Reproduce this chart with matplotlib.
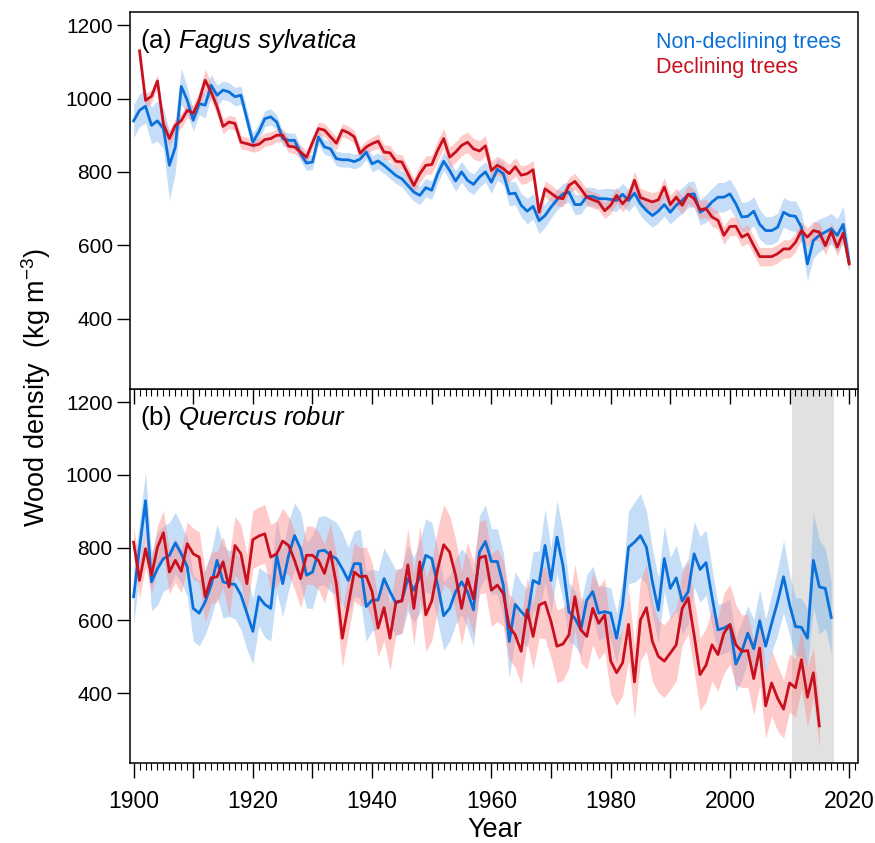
import numpy as np
import matplotlib
matplotlib.use("Agg")
import matplotlib.pyplot as plt
from matplotlib.ticker import MultipleLocator

plt.rcParams["font.family"] = ["Liberation Sans", "DejaVu Sans"]
plt.rcParams["mathtext.fontset"] = "custom"
plt.rcParams["mathtext.rm"] = "Liberation Sans"
plt.rcParams["mathtext.it"] = "Liberation Sans:italic"

# ---- data ----
fagus_nd_start = 1900
fagus_nd = [
    939, 968, 979, 927, 939, 918, 818, 868, 1033, 995,
    941, 986, 982, 1036, 1009, 1023, 1018, 1005, 1009, 945,
    881, 909, 945, 950, 936, 891, 886, 886, 850, 824,
    827, 895, 868, 863, 836, 833, 833, 828, 835, 854,
    822, 830, 818, 804, 790, 781, 763, 745, 736, 757,
    750, 795, 829, 804, 775, 800, 777, 766, 786, 800,
    772, 807, 795, 740, 742, 709, 693, 706, 667, 681,
    704, 724, 740, 745, 711, 711, 733, 733, 727, 727,
    725, 722, 739, 722, 742, 713, 695, 681, 693, 711,
    690, 709, 722, 738, 740, 690, 700, 718, 731, 731,
    740, 713, 677, 679, 693, 657, 640, 640, 649, 690,
    681, 679, 649, 549, 613, 627, 636, 645, 627, 657, 554,
]
fagus_nd_hw = [
    45, 45, 45, 50, 55, 55, 95, 70, 50, 35,
    30, 30, 35, 30, 28, 25, 25, 25, 25, 25,
    25, 22, 22, 22, 20, 20, 20, 20, 20, 20,
    20, 20, 20, 20, 20, 20, 20, 20, 20, 20,
    22, 22, 22, 22, 22, 22, 25, 25, 25, 25,
    25, 25, 25, 28, 28, 28, 28, 28, 28, 28,
    30, 30, 30, 32, 32, 32, 35, 35, 35, 32,
    30, 28, 28, 28, 28, 25, 25, 25, 25, 28,
    30, 30, 30, 30, 32, 32, 32, 32, 32, 32,
    32, 35, 35, 35, 35, 35, 38, 38, 40, 40,
    40, 40, 40, 40, 40, 40, 38, 38, 38, 40,
    40, 42, 42, 45, 48, 45, 42, 42, 45, 50, 30,
]
fagus_d_start = 1901
fagus_d = [
    1130, 995, 1006, 1048, 930, 891, 927, 940, 968, 960,
    995, 1050, 1018, 977, 924, 936, 932, 881, 877, 872,
    875, 888, 891, 900, 900, 870, 868, 854, 840, 880,
    918, 914, 896, 878, 914, 907, 896, 851, 868, 877,
    884, 854, 852, 829, 827, 795, 763, 795, 818, 820,
    859, 891, 840, 854, 872, 881, 863, 857, 871, 804,
    818, 809, 795, 814, 791, 795, 806, 690, 754, 742,
    730, 727, 763, 774, 754, 731, 724, 718, 694, 709,
    736, 713, 731, 777, 730, 724, 718, 724, 759, 711,
    731, 709, 739, 727, 697, 700, 677, 668, 627, 651,
    652, 622, 631, 599, 569, 569, 569, 577, 590, 590,
    608, 640, 622, 640, 636, 599, 638, 595, 633, 549,
]
fagus_d_hw = [
    18, 18, 18, 18, 20, 20, 20, 20, 20, 22,
    25, 30, 25, 22, 20, 18, 18, 18, 18, 18,
    18, 18, 18, 18, 18, 18, 18, 18, 18, 18,
    18, 18, 18, 18, 18, 18, 18, 18, 18, 18,
    20, 20, 20, 20, 20, 20, 20, 25, 25, 25,
    28, 28, 28, 28, 28, 28, 28, 28, 28, 25,
    25, 25, 25, 25, 25, 25, 25, 22, 22, 22,
    22, 22, 22, 22, 22, 22, 22, 22, 22, 22,
    22, 22, 22, 25, 25, 25, 25, 25, 25, 25,
    25, 25, 25, 25, 25, 25, 25, 25, 25, 25,
    25, 25, 25, 25, 25, 25, 25, 25, 25, 25,
    25, 25, 25, 25, 25, 25, 25, 25, 25, 15,
]

quercus_nd_start = 1900
quercus_nd = [
    665, 801, 929, 706, 742, 770, 779, 813, 783, 747,
    633, 620, 651, 697, 765, 706, 701, 699, 670, 620,
    570, 665, 644, 633, 779, 701, 779, 833, 797, 724,
    733, 790, 793, 779, 770, 742, 710, 756, 756, 638,
    656, 656, 715, 679, 647, 656, 715, 683, 720, 779,
    770, 697, 613, 633, 679, 706, 679, 629, 788, 817,
    762, 762, 697, 542, 644, 624, 606, 710, 701, 806,
    710, 829, 751, 624, 606, 574, 656, 679, 620, 624,
    620, 551, 642, 801, 815, 833, 801, 706, 628, 770,
    688, 717, 653, 679, 783, 740, 759, 665, 574, 579,
    588, 480, 515, 565, 522, 599, 529, 592, 651, 720,
    644, 583, 581, 551, 765, 692, 688, 608,
]
quercus_nd_hw = [
    80, 70, 80, 80, 100, 90, 90, 85, 80, 80,
    90, 90, 90, 90, 100, 100, 90, 95, 95, 100,
    90, 80, 90, 90, 100, 90, 95, 90, 100, 90,
    100, 95, 95, 100, 100, 100, 90, 90, 95, 95,
    85, 80, 85, 90, 90, 90, 90, 90, 100, 100,
    100, 100, 95, 90, 90, 90, 100, 100, 100, 100,
    90, 90, 90, 100, 90, 80, 80, 80, 90, 100,
    90, 100, 95, 80, 75, 70, 70, 70, 75, 70,
    70, 70, 70, 100, 110, 115, 100, 90, 90, 90,
    85, 90, 90, 90, 90, 90, 90, 80, 70, 70,
    70, 75, 80, 75, 80, 85, 75, 80, 90, 100,
    85, 80, 80, 80, 130, 130, 110, 100,
]
quercus_d_start = 1900
quercus_d = [
    815, 710, 797, 724, 801, 841, 733, 765, 735, 811,
    783, 774, 665, 717, 720, 761, 692, 806, 783, 701,
    822, 832, 838, 774, 783, 818, 806, 765, 715, 779,
    779, 765, 729, 788, 700, 551, 642, 733, 720, 722,
    679, 579, 635, 551, 651, 653, 753, 633, 761, 615,
    653, 742, 808, 788, 724, 633, 715, 659, 772, 777,
    683, 697, 674, 583, 560, 515, 629, 556, 642, 650,
    597, 529, 535, 560, 665, 574, 556, 633, 592, 615,
    489, 456, 483, 589, 431, 601, 635, 542, 501, 488,
    510, 533, 633, 662, 560, 451, 477, 533, 506, 565,
    589, 533, 515, 517, 440, 524, 365, 428, 386, 356,
    428, 415, 492, 389, 456, 310,
]
quercus_d_hw = [
    40, 50, 50, 50, 60, 60, 60, 60, 60, 60,
    70, 70, 70, 70, 70, 70, 80, 80, 80, 80,
    80, 80, 80, 90, 90, 90, 80, 80, 80, 80,
    80, 80, 80, 80, 80, 80, 80, 80, 80, 80,
    80, 80, 90, 90, 90, 90, 100, 100, 100, 100,
    110, 110, 110, 100, 100, 100, 100, 100, 100, 100,
    100, 100, 90, 90, 90, 90, 90, 90, 90, 100,
    100, 100, 100, 90, 90, 90, 90, 100, 100, 100,
    90, 90, 90, 100, 100, 110, 120, 110, 100, 100,
    100, 100, 100, 100, 100, 100, 100, 100, 100, 110,
    110, 110, 100, 100, 100, 100, 90, 90, 90, 80,
    80, 80, 80, 80, 70, 60,
]
shade_period = (2010.4, 2017.5)
year_labels = [1900, 1920, 1940, 1960, 1980, 2000, 2020]

BLUE = "#0a70da"
RED = "#c8101e"
BLUE_FILL = "#7fb5ee"
RED_FILL = "#ff8a8a"


def draw_band(ax, start, vals, hw, fill_c):
    vals = np.asarray(vals, dtype=float)
    hw = np.asarray(hw, dtype=float)
    yrs = np.arange(start, start + len(vals))
    ax.fill_between(yrs, vals - hw, vals + hw, color=fill_c, alpha=0.45, lw=0)
    return yrs, vals


fig = plt.figure(figsize=(8.75, 8.43), dpi=100)
left, right = 0.1486, 0.98
ax1 = fig.add_axes([left, 0.5385, right - left, 0.9858 - 0.5385], zorder=3)
ax2 = fig.add_axes([left, 0.0949, right - left, 0.5385 - 0.0949], zorder=1)

panels = [
    (ax1, (fagus_nd_start, fagus_nd, fagus_nd_hw), (fagus_d_start, fagus_d, fagus_d_hw),
     r"(a) $\mathit{Fagus\ sylvatica}$"),
    (ax2, (quercus_nd_start, quercus_nd, quercus_nd_hw), (quercus_d_start, quercus_d, quercus_d_hw),
     r"(b) $\mathit{Quercus\ robur}$"),
]

ax2.axvspan(*shade_period, color="#e1e1e1", lw=0, zorder=0)

for ax, nd, d, label in panels:
    xb, yb = draw_band(ax, *nd, BLUE_FILL)
    xr, yr = draw_band(ax, *d, RED_FILL)
    ax.plot(xb, yb, color=BLUE, lw=2.0)
    ax.plot(xr, yr, color=RED, lw=2.0)
    ax.set_xlim(1899.4, 2021.4)
    ax.set_ylim(208, 1236)
    ax.set_yticks([400, 600, 800, 1000, 1200])
    ax.tick_params(axis="y", direction="out", length=9.5, width=1.0,
                   labelsize=15, pad=3)
    ax.xaxis.set_major_locator(MultipleLocator(10))
    ax.xaxis.set_minor_locator(MultipleLocator(1))
    ax.tick_params(axis="x", which="major", direction="out", length=10.5, width=1.0)
    ax.tick_params(axis="x", which="minor", direction="out", length=5, width=0.8)
    ax.set_xticklabels([])
    for s in ax.spines.values():
        s.set_linewidth(1.1)
    ax.text(0.014, 0.905, label, transform=ax.transAxes, fontsize=18.5,
            ha="left", va="baseline")

# year labels under the lower panel only
for yl in year_labels:
    ax2.text(yl, -0.072, str(yl), transform=ax2.get_xaxis_transform(),
             ha="center", va="top", fontsize=16.5)
fig.text(0.565, 0.016, "Year", ha="center", va="center", fontsize=19.5)

ax1.text(0.723, 0.905, "Non-declining trees", color=BLUE, fontsize=15.5,
         transform=ax1.transAxes, ha="left", va="baseline")
ax1.text(0.723, 0.838, "Declining trees", color=RED, fontsize=15.5,
         transform=ax1.transAxes, ha="left", va="baseline")

fig.text(0.041, 0.54, r"Wood density  (kg m$^{-3}$)", rotation=90,
         ha="center", va="center", fontsize=19.5)

fig.savefig("out.png", dpi=100)
